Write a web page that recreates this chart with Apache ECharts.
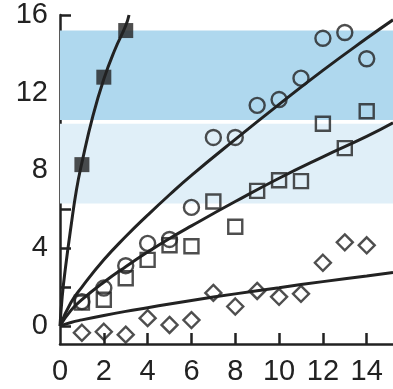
<!DOCTYPE html>
<html>
<head>
<meta charset="utf-8">
<script src="https://cdn.jsdelivr.net/npm/echarts@6/dist/echarts.min.js"></script>
<style>html,body{margin:0;padding:0;background:#fff;}#c{width:393px;height:389px;}</style>
</head>
<body>
<div id="c"></div>
<script>
// Tick values
var xTickValues = [2, 4, 6, 8, 10, 12, 14];
var xLabelValues = [0, 2, 4, 6, 8, 10, 12, 14];
var yTickValues = [0, 2, 4, 6, 8, 10, 12, 14, 16];
var yLabelValues = [0, 4, 8, 12, 16];

// Shaded bands [low, high]
var bandDark = [10.6, 15.2];
var bandLight = [6.3, 10.4];

// Marker data
var xFilled = [1, 2, 3];
var yFilled = [8.3, 12.8, 15.2];
var xPts = [1, 2, 3, 4, 5, 6, 7, 8, 9, 10, 11, 12, 13, 14];
var yCircles = [1.25, 1.95, 3.1, 4.25, 4.45, 6.1, 9.7, 9.7, 11.35, 11.65, 12.75, 14.8, 15.1, 13.75];
var ySquares = [1.2, 1.35, 2.45, 3.4, 4.15, 4.1, 6.4, 5.1, 6.95, 7.5, 7.45, 10.4, 9.15, 11.05];
var yDiamonds = [-0.35, -0.3, -0.45, 0.4, 0.05, 0.3, 1.7, 1.0, 1.8, 1.5, 1.65, 3.25, 4.3, 4.15];

// Fitted curves
var curveAx = [0, 0.1, 0.25, 0.5, 0.75, 1, 1.5, 2, 2.5, 3, 3.15];
var curveAy = [0, 1.5, 3.0, 5.1, 7.0, 8.4, 10.8, 12.7, 14.2, 15.45, 16];
var curveBx = [0, 0.5, 1, 2, 3, 4, 5, 6, 8, 10, 12, 14, 15.2];
var curveBy = [0, 1.2, 2.0, 3.4, 4.6, 5.7, 6.75, 7.75, 9.6, 11.4, 13.15, 14.8, 15.75];
var curveCx = [0, 0.5, 1, 2, 3, 4, 5, 6, 8, 10, 12, 14, 15.2];
var curveCy = [0, 0.8, 1.35, 2.25, 3.05, 3.8, 4.5, 5.15, 6.4, 7.6, 8.7, 9.75, 10.45];
var curveDx = [0, 0.5, 1, 2, 3, 4, 5, 6, 8, 10, 12, 14, 15.2];
var curveDy = [0, 0.18, 0.31, 0.54, 0.75, 0.94, 1.13, 1.31, 1.65, 1.97, 2.28, 2.57, 2.75];

function zip(a, b) { return a.map(function (v, i) { return [v, b[i]]; }); }

var ink = '#222';
var font = 'Liberation Sans, Arial, sans-serif';

function lineSeries(xs, ys) {
  return { type: 'line', data: zip(xs, ys), smooth: 0.5, showSymbol: false, symbol: 'none',
    lineStyle: { color: ink, width: 3 }, z: 3, silent: true, clip: true };
}
function scatter(xs, ys, symbol, size, filled) {
  return { type: 'scatter', data: zip(xs, ys), symbol: symbol, symbolSize: size, z: 4,
    itemStyle: filled ? { color: ink } : { color: 'rgba(0,0,0,0)', borderColor: ink, borderWidth: 2.4 } };
}

var chart = echarts.init(document.getElementById('c'), null, { renderer: 'canvas' });
chart.setOption({
  animation: false,
  backgroundColor: '#fff',
  grid: { left: 60, top: 15, right: 0, bottom: 45 },
  xAxis: {
    type: 'value', min: 0, max: 15.2,
    axisLine: { show: true, onZero: false, lineStyle: { color: ink, width: 2.5 } },
    axisTick: { show: true, inside: true, length: 11, customValues: xTickValues, lineStyle: { color: ink, width: 2.5 } },
    axisLabel: { customValues: xLabelValues, fontSize: 29, color: ink, fontFamily: font, margin: 13 },
    splitLine: { show: false }
  },
  yAxis: {
    type: 'value', min: -0.93, max: 16,
    axisLine: { show: true, onZero: false, lineStyle: { color: ink, width: 2.5 } },
    axisTick: { show: true, inside: true, length: 11, customValues: yTickValues, lineStyle: { color: ink, width: 2.5 } },
    axisLabel: { customValues: yLabelValues, fontSize: 29, color: ink, fontFamily: font, margin: 12 },
    splitLine: { show: false }
  },
  series: [
    { type: 'line', data: [], z: 1, silent: true,
      markArea: { silent: true, data: [
        [{ xAxis: 0, yAxis: bandDark[0], itemStyle: { color: '#afd8ee', opacity: 1 } }, { xAxis: 15.2, yAxis: bandDark[1] }],
        [{ xAxis: 0, yAxis: bandLight[0], itemStyle: { color: '#e0eff8', opacity: 1 } }, { xAxis: 15.2, yAxis: bandLight[1] }]
      ] } },
    lineSeries(curveAx, curveAy),
    lineSeries(curveBx, curveBy),
    lineSeries(curveCx, curveCy),
    lineSeries(curveDx, curveDy),
    scatter(xFilled, yFilled, 'rect', 15, true),
    scatter(xPts, yCircles, 'circle', 15, false),
    scatter(xPts, ySquares, 'rect', 14, false),
    scatter(xPts, yDiamonds, 'diamond', 16, false)
  ]
});
</script>
</body>
</html>
